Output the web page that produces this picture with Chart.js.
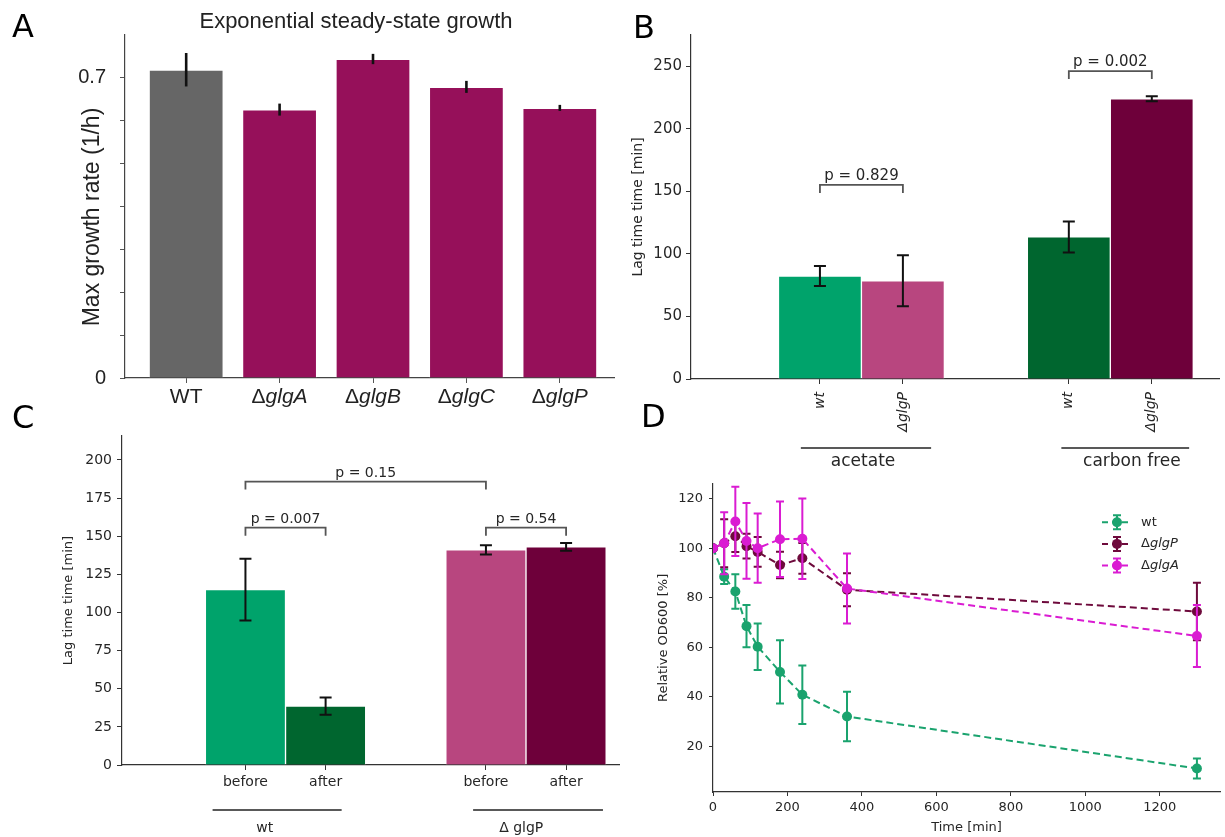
<!DOCTYPE html>
<html>
<head>
<meta charset="utf-8">
<title>Glycogen mutants: growth and lag times</title>
<script src="https://cdn.jsdelivr.net/npm/chart.js@4.4.1/dist/chart.umd.min.js"></script>
<style>
  html, body { margin: 0; padding: 0; background: #fff; }
  body { width: 1225px; height: 837px; position: relative; overflow: hidden; }
  .panel { position: absolute; }
  .letter { position: absolute; font-family: 'DejaVu Sans', sans-serif; font-size: 32px; line-height: 1; color: #000; }
</style>
</head>
<body>
<div class="panel" style="left:0;top:0;width:618px;height:420px"><canvas id="chartA"></canvas></div>
<div class="panel" style="left:612px;top:0;width:613px;height:475px"><canvas id="chartB"></canvas></div>
<div class="panel" style="left:0;top:420px;width:622px;height:417px"><canvas id="chartC"></canvas></div>
<div class="panel" style="left:620px;top:470px;width:605px;height:367px"><canvas id="chartD"></canvas></div>
<div class="letter" style="left:12px;top:10px">A</div>
<div class="letter" style="left:633px;top:11px">B</div>
<div class="letter" style="left:12px;top:401px">C</div>
<div class="letter" style="left:641px;top:400px">D</div>
<script>
// panel A - exponential steady-state growth
const strainsA = ['WT', 'ΔglgA', 'ΔglgB', 'ΔglgC', 'ΔglgP'];
const growthRate = [0.719, 0.626, 0.744, 0.679, 0.630];
const growthErr = [0.039, 0.014, 0.012, 0.014, 0.007];
const growthTicks = [0, 0.1, 0.2, 0.3, 0.4, 0.5, 0.6, 0.7];
const growthLabeled = [0, 0.7];

// panel B - lag time by medium
const strainsB = ['wt', 'ΔglgP', 'wt', 'ΔglgP'];
const mediaB = ['acetate', 'carbon free'];
const lagB = [82.3, 78.5, 113.5, 223.8];
const lagErrB = [8, 20.3, 12.4, 2];
const lagTicksB = [0, 50, 100, 150, 200, 250];
const pTextB = ['p = 0.829', 'p = 0.002'];
const pPairB = [[0, 1], [2, 3]];
const pLevelB = [155, 246];

// panel C - lag time before / after
const phasesC = ['before', 'after', 'before', 'after'];
const strainsC = ['wt', 'Δ glgP'];
const lagC = [115, 38.6, 141, 143];
const lagErrC = [20.3, 5.6, 3, 2.6];
const lagTicksC = [0, 25, 50, 75, 100, 125, 150, 175, 200];
const pTextC = ['p = 0.007', 'p = 0.54', 'p = 0.15'];
const pPairC = [[0, 1], [2, 3], [0, 2]];
const pLevelC = [155.6, 155.6, 185.8];

// panel D - OD600 over time
const timeMin = [0, 30, 60, 90, 120, 180, 240, 360, 1300];
const seriesD = ['wt', 'ΔglgP', 'ΔglgA'];
const odWt = [100, 88.5, 82.5, 68.5, 60.2, 50, 40.8, 32, 11];
const odWtErr = [0, 3, 7, 8.5, 9.4, 12.8, 11.8, 10, 4];
const odGlgP = [100, 102, 104.8, 100.8, 98.5, 93.2, 95.9, 83.2, 74.4];
const odGlgPErr = [0, 9.7, 6.4, 5, 6, 5.4, 6.2, 6.7, 11.6];
const odGlgA = [100, 102, 110.8, 102.9, 100, 103.6, 103.8, 83.7, 64.5];
const odGlgAErr = [0, 12.5, 14, 15.3, 14, 15.2, 16.3, 14.1, 12.5];
const timeTicks = [0, 200, 400, 600, 800, 1000, 1200];
const odTicks = [20, 40, 60, 80, 100, 120];

const fontMpl = "'DejaVu Sans', sans-serif";
const fontA = "'Liberation Sans', Arial, sans-serif";
const axisCol = '#333';
const textCol = '#262626';
const green = '#00a36b', darkGreen = '#00662f', pink = '#b8467f', maroon = '#6e003a';
const colorsD = ['rgb(26,163,110)', 'rgb(110,10,60)', 'rgb(218,28,210)'];

// bars sit in pairs with one empty slot between groups
const slot = i => Math.floor(i / 2) * 3 + (i % 2);

function valOf(d) { return (d !== null && typeof d === 'object') ? d.y : d; }

function drawErrorBars(chart, dsIndex, errs, color, width, cap) {
    const meta = chart.getDatasetMeta(dsIndex);
    const y = chart.scales.y;
    const data = chart.data.datasets[dsIndex].data;
    const ctx = chart.ctx;
    ctx.save();
    ctx.strokeStyle = color;
    ctx.lineWidth = width;
    ctx.setLineDash([]);
    meta.data.forEach((el, i) => {
        if (!errs[i]) return;
        const v = valOf(data[i]);
        const top = y.getPixelForValue(v + errs[i]);
        const bot = y.getPixelForValue(v - errs[i]);
        ctx.beginPath();
        ctx.moveTo(el.x, top);
        ctx.lineTo(el.x, bot);
        if (cap) {
            ctx.moveTo(el.x - cap, top); ctx.lineTo(el.x + cap, top);
            ctx.moveTo(el.x - cap, bot); ctx.lineTo(el.x + cap, bot);
        }
        ctx.stroke();
    });
    ctx.restore();
}

function drawBracket(chart, x1, x2, level, text, size) {
    const {ctx, scales: {x, y}} = chart;
    const a = x.getPixelForValue(x1), b = x.getPixelForValue(x2), py = y.getPixelForValue(level);
    ctx.save();
    ctx.strokeStyle = '#555';
    ctx.lineWidth = 1.8;
    ctx.beginPath();
    ctx.moveTo(a, py + 8); ctx.lineTo(a, py); ctx.lineTo(b, py); ctx.lineTo(b, py + 8);
    ctx.stroke();
    ctx.fillStyle = textCol;
    ctx.font = `${size}px ${fontMpl}`;
    ctx.textAlign = 'center';
    ctx.textBaseline = 'bottom';
    ctx.fillText(text, (a + b) / 2, py - 1);
    ctx.restore();
}

function drawGroups(chart, groups, names, lineDy, textDy, size) {
    const {ctx, chartArea, scales: {x}} = chart;
    ctx.save();
    ctx.strokeStyle = '#222';
    ctx.lineWidth = 1.5;
    ctx.fillStyle = textCol;
    ctx.font = `${size}px ${fontMpl}`;
    ctx.textAlign = 'center';
    ctx.textBaseline = 'middle';
    groups.forEach((g, i) => {
        const ly = chartArea.bottom + lineDy;
        ctx.beginPath();
        ctx.moveTo(x.getPixelForValue(g.from), ly);
        ctx.lineTo(x.getPixelForValue(g.to), ly);
        ctx.stroke();
        ctx.fillText(names[i], x.getPixelForValue(g.at), chartArea.bottom + textDy);
    });
    ctx.restore();
}

// "Δ" upright, gene name in italics
function drawGene(ctx, label, cx, cy, size, family, align) {
    const up = `${size}px ${family}`, it = `italic ${size}px ${family}`;
    const parts = label.startsWith('Δ') ? [['Δ', up], [label.slice(1), it]] : [[label, up]];
    let total = 0;
    parts.forEach(p => { ctx.font = p[1]; total += ctx.measureText(p[0]).width; });
    let x = align === 'left' ? cx : cx - total / 2;
    ctx.textAlign = 'left';
    ctx.textBaseline = 'middle';
    parts.forEach(p => { ctx.font = p[1]; ctx.fillText(p[0], x, cy); x += ctx.measureText(p[0]).width; });
}

const setTicks = list => scale => { scale.ticks = list.map(v => ({value: v})); };

Chart.defaults.font.family = fontMpl;
Chart.defaults.color = textCol;

// ---------- A ----------
const panelA = {
    id: 'panelA',
    afterDatasetsDraw(chart) {
        drawErrorBars(chart, 0, growthErr, '#111', 2.6, 0);
    },
    afterDraw(chart) {
        const {ctx, scales: {x}} = chart;
        ctx.save();
        ctx.fillStyle = '#222';
        ctx.font = `22px ${fontA}`;
        ctx.textAlign = 'center';
        ctx.textBaseline = 'middle';
        ctx.fillText('Exponential steady-state growth', 356, 22);
        ctx.font = `23px ${fontA}`;
        ctx.translate(93, 217);
        ctx.rotate(-Math.PI / 2);
        ctx.fillText('Max growth rate (1/h)', 0, 0);
        ctx.restore();
        ctx.save();
        ctx.fillStyle = '#222';
        strainsA.forEach((s, i) => drawGene(ctx, s, x.getPixelForValue(i), 397, 21, fontA));
        ctx.restore();
    }
};

new Chart(document.getElementById('chartA'), {
    type: 'bar',
    data: {
        datasets: [{
            data: strainsA.map((s, i) => ({x: i, y: growthRate[i]})),
            backgroundColor: strainsA.map((s, i) => i === 0 ? '#666666' : '#96105a'),
            borderColor: 'rgba(255,255,255,0.45)',
            borderWidth: 1,
            barPercentage: 0.8,
            categoryPercentage: 1
        }]
    },
    options: {
        responsive: true, maintainAspectRatio: false, animation: false,
        layout: {padding: {top: 35, right: 4, left: 0, bottom: 0}},
        plugins: {legend: {display: false}, tooltip: {enabled: false}},
        scales: {
            x: {
                type: 'linear', min: -0.655, max: 4.58, offset: false,
                afterBuildTicks: setTicks(strainsA.map((s, i) => i)),
                afterFit: s => { s.height = 42; },
                grid: {drawOnChartArea: false, tickLength: 5, color: '#555', offset: false},
                border: {color: '#444', width: 1.2},
                ticks: {callback: () => '', autoSkip: false}
            },
            y: {
                min: 0, max: 0.8,
                afterBuildTicks: setTicks(growthTicks),
                afterFit: s => { s.width = 125; },
                grid: {drawOnChartArea: false, tickLength: 5, color: '#555'},
                border: {color: '#444', width: 1.2},
                ticks: {
                    autoSkip: false, padding: 14, color: '#222',
                    font: {family: fontA, size: 20},
                    callback: v => growthLabeled.some(l => Math.abs(l - v) < 1e-9) ? String(v) : ''
                }
            }
        }
    },
    plugins: [panelA]
});

// ---------- B ----------
const panelB = {
    id: 'panelB',
    afterDatasetsDraw(chart) {
        drawErrorBars(chart, 0, lagErrB, '#111', 2, 6);
    },
    afterDraw(chart) {
        pTextB.forEach((t, i) => drawBracket(chart, slot(pPairB[i][0]), slot(pPairB[i][1]), pLevelB[i], t, 15));
        drawGroups(chart, [{from: -0.23, to: 1.34, at: 0.52}, {from: 2.91, to: 4.45, at: 3.76}], mediaB, 69, 83, 17);
    }
};

new Chart(document.getElementById('chartB'), {
    type: 'bar',
    data: {
        datasets: [{
            data: strainsB.map((s, i) => ({x: slot(i), y: lagB[i]})),
            backgroundColor: [green, pink, darkGreen, maroon],
            borderColor: 'rgba(255,255,255,0.45)',
            borderWidth: 1,
            barPercentage: 1,
            categoryPercentage: 1
        }]
    },
    options: {
        responsive: true, maintainAspectRatio: false, animation: false,
        layout: {padding: {top: 35, right: 6, left: 0, bottom: 0}},
        plugins: {legend: {display: false}, tooltip: {enabled: false}},
        scales: {
            x: {
                type: 'linear', min: -1.554, max: 4.81, offset: false,
                afterBuildTicks: setTicks(strainsB.map((s, i) => slot(i))),
                afterFit: s => { s.height = 96; },
                grid: {drawOnChartArea: false, tickLength: 5, color: axisCol, offset: false},
                border: {color: axisCol, width: 1.2},
                ticks: {
                    autoSkip: false, minRotation: 90, maxRotation: 90, padding: 8,
                    font: {size: 14, style: 'italic'},
                    callback: v => strainsB[[0, 1, 3, 4].indexOf(v)] || ''
                }
            },
            y: {
                min: 0, max: 274.8,
                afterBuildTicks: setTicks(lagTicksB),
                afterFit: s => { s.width = 79; },
                grid: {drawOnChartArea: false, tickLength: 5, color: axisCol},
                border: {color: axisCol, width: 1.2},
                ticks: {autoSkip: false, padding: 4, font: {size: 15}},
                title: {display: true, text: 'Lag time time [min]', font: {size: 14}, color: textCol, padding: {top: 18, bottom: 0}}
            }
        }
    },
    plugins: [panelB]
});

// ---------- C ----------
const panelC = {
    id: 'panelC',
    afterDatasetsDraw(chart) {
        drawErrorBars(chart, 0, lagErrC, '#111', 2, 6);
    },
    afterDraw(chart) {
        pTextC.forEach((t, i) => drawBracket(chart, slot(pPairC[i][0]), slot(pPairC[i][1]), pLevelC[i], t, 14));
        drawGroups(chart, [{from: -0.41, to: 1.2, at: 0.24}, {from: 2.84, to: 4.46, at: 3.44}], strainsC, 45, 63, 14);
    }
};

new Chart(document.getElementById('chartC'), {
    type: 'bar',
    data: {
        datasets: [{
            data: phasesC.map((s, i) => ({x: slot(i), y: lagC[i]})),
            backgroundColor: [green, darkGreen, pink, maroon],
            borderColor: 'rgba(255,255,255,0.45)',
            borderWidth: 1,
            barPercentage: 1,
            categoryPercentage: 1
        }]
    },
    options: {
        responsive: true, maintainAspectRatio: false, animation: false,
        layout: {padding: {top: 16, right: 3, left: 0, bottom: 0}},
        plugins: {legend: {display: false}, tooltip: {enabled: false}},
        scales: {
            x: {
                type: 'linear', min: -1.54, max: 4.66, offset: false,
                afterBuildTicks: setTicks(phasesC.map((s, i) => slot(i))),
                afterFit: s => { s.height = 72; },
                grid: {drawOnChartArea: false, tickLength: 5, color: axisCol, offset: false},
                border: {color: axisCol, width: 1.2},
                ticks: {
                    autoSkip: false, maxRotation: 0, padding: 4, font: {size: 14},
                    callback: v => phasesC[[0, 1, 3, 4].indexOf(v)] || ''
                }
            },
            y: {
                min: 0, max: 215.7,
                afterBuildTicks: setTicks(lagTicksC),
                afterFit: s => { s.width = 122; },
                grid: {drawOnChartArea: false, tickLength: 5, color: axisCol},
                border: {color: axisCol, width: 1.2},
                ticks: {autoSkip: false, padding: 5, font: {size: 14}},
                title: {display: true, text: 'Lag time time [min]', font: {size: 13}, color: textCol, padding: {top: 61, bottom: 0}}
            }
        }
    },
    plugins: [panelC]
});

// ---------- D ----------
const errsD = [odWtErr, odGlgPErr, odGlgAErr];
const panelD = {
    id: 'panelD',
    afterDatasetDraw(chart, args) {
        drawErrorBars(chart, args.index, errsD[args.index], colorsD[args.index], 2, 4);
    },
    afterDraw(chart) {
        const {ctx, chartArea} = chart;
        ctx.save();
        seriesD.forEach((name, i) => {
            const cy = chartArea.top + 38.5 + i * 21.6;
            const mx = chartArea.right - 103;
            ctx.strokeStyle = colorsD[i];
            ctx.fillStyle = colorsD[i];
            ctx.lineWidth = 2;
            ctx.setLineDash([6, 4]);
            ctx.beginPath();
            ctx.moveTo(chartArea.right - 118, cy);
            ctx.lineTo(chartArea.right - 88, cy);
            ctx.stroke();
            ctx.setLineDash([]);
            ctx.beginPath();
            ctx.moveTo(mx, cy - 7); ctx.lineTo(mx, cy + 7);
            ctx.moveTo(mx - 4, cy - 7); ctx.lineTo(mx + 4, cy - 7);
            ctx.moveTo(mx - 4, cy + 7); ctx.lineTo(mx + 4, cy + 7);
            ctx.stroke();
            ctx.beginPath();
            ctx.arc(mx, cy, 5, 0, Math.PI * 2);
            ctx.fill();
            ctx.fillStyle = textCol;
            drawGene(ctx, name, chartArea.right - 79, cy, 13, fontMpl, 'left');
        });
        ctx.restore();
    }
};

const seriesValsD = [odWt, odGlgP, odGlgA];
new Chart(document.getElementById('chartD'), {
    type: 'line',
    data: {
        datasets: seriesD.map((name, k) => ({
            label: name,
            data: timeMin.map((t, i) => ({x: t, y: seriesValsD[k][i]})),
            borderColor: colorsD[k],
            backgroundColor: colorsD[k],
            borderWidth: 2,
            borderDash: [7, 4],
            pointRadius: 5,
            pointBorderWidth: 0,
            pointBackgroundColor: colorsD[k],
            tension: 0,
            fill: false,
            order: 3 - k
        }))
    },
    options: {
        responsive: true, maintainAspectRatio: false, animation: false,
        layout: {padding: {top: 12.7, right: 5, left: 0, bottom: 0}},
        plugins: {legend: {display: false}, tooltip: {enabled: false}},
        scales: {
            x: {
                type: 'linear', min: 0, max: 1362,
                afterBuildTicks: setTicks(timeTicks),
                afterFit: s => { s.height = 45; },
                grid: {drawOnChartArea: false, tickLength: 4, color: axisCol},
                border: {color: axisCol, width: 1.2},
                ticks: {autoSkip: false, maxRotation: 0, padding: 4, font: {size: 13}, callback: v => String(v)},
                title: {display: true, text: 'Time [min]', font: {size: 13}, color: textCol, padding: {top: 0, bottom: 2}}
            },
            y: {
                min: 1.5, max: 126,
                afterBuildTicks: setTicks(odTicks),
                afterFit: s => { s.width = 93; },
                grid: {drawOnChartArea: false, tickLength: 4, color: axisCol},
                border: {color: axisCol, width: 1.2},
                ticks: {autoSkip: false, padding: 6, font: {size: 13}},
                title: {display: true, text: 'Relative OD600 [%]', font: {size: 13}, color: textCol, padding: {top: 36, bottom: 0}}
            }
        }
    },
    plugins: [panelD]
});
</script>
</body>
</html>
